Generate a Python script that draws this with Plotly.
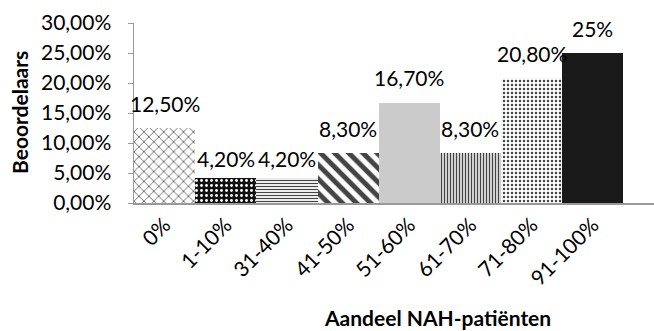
import plotly.graph_objects as go

# ---- data ----
categories = ["0%", "1-10%", "31-40%", "41-50%", "51-60%", "61-70%", "71-80%", "91-100%"]
values = [0.125, 0.042, 0.042, 0.083, 0.167, 0.083, 0.208, 0.25]
value_labels = ["12,50%", "4,20%", "4,20%", "8,30%", "16,70%", "8,30%", "20,80%", "25%"]
y_tick_values = [0, 0.05, 0.10, 0.15, 0.20, 0.25, 0.30]
y_tick_labels = ["0,00%", "5,00%", "10,00%", "15,00%", "20,00%", "25,00%", "30,00%"]
x_title = "Aandeel NAH-patiënten"
y_title = "Beoordelaars"

# ---- styles ----
FONT = "Lato"
W, H = 654, 331
L, R, T, B = 134, 0, 23, 128
pattern_shapes = ["x", ".", "-", "\\", "", "|", ".", ""]
pattern_fg = ["black", "white", "black", "black", "#cbcbcb", "black", "black", "#1a1a1a"]
pattern_bg = ["white", "#111111", "white", "white", "#cbcbcb", "white", "white", "#1a1a1a"]
pattern_size = [7, 5, 3, 10, 4, 3, 4, 8]
pattern_solidity = [0.2, 0.25, 0.4, 0.5, 0.25, 0.5, 0.3, 0.5]
label_shift = [25, 19, 19, 25, 25, 25, 25, 25]

fig = go.Figure()
fig.add_trace(go.Bar(
    x=categories, y=values, width=1.0,
    marker=dict(
        color=pattern_bg,
        line=dict(width=0),
        pattern=dict(shape=pattern_shapes, fgcolor=pattern_fg, bgcolor=pattern_bg, fgopacity=1,
                     size=pattern_size, solidity=pattern_solidity, fillmode="overlay"),
    ),
    hoverinfo="skip",
))

annotations = []
for c, v, t, s in zip(categories, values, value_labels, label_shift):
    annotations.append(dict(x=c, y=v, text=t, showarrow=False, yshift=s,
                            yanchor="middle", xanchor="center",
                            font=dict(family=FONT, size=21, color="black")))

pw, ph = W - L - R, H - T - B
annotations.append(dict(xref="paper", yref="paper", x=(437 - L) / pw, y=(203 - 332) / ph,
                        text=f"<b>{x_title}</b>", showarrow=False, xanchor="center", yanchor="bottom",
                        font=dict(family=FONT, size=21, color="black")))
annotations.append(dict(xref="paper", yref="paper", x=(19 - L) / pw, y=0.5,
                        text=f"<b>{y_title}</b>", showarrow=False, textangle=-90,
                        xanchor="center", yanchor="middle",
                        font=dict(family=FONT, size=21, color="black")))

fig.update_layout(
    width=W, height=H,
    margin=dict(l=L, r=R, t=T, b=B, pad=0),
    paper_bgcolor="white", plot_bgcolor="white",
    bargap=0, showlegend=False,
    font=dict(family=FONT, size=21, color="black"),
    annotations=annotations,
)
fig.update_xaxes(type="category", range=[-0.5, 8.0], showline=True, linecolor="#999999", linewidth=1.5,
                 ticks="", tickangle=-45, showgrid=False, zeroline=False,
                 tickfont=dict(family=FONT, size=21, color="black"), fixedrange=True)
fig.update_yaxes(range=[0, 0.30], tickvals=y_tick_values, ticktext=y_tick_labels,
                 showline=True, linecolor="#999999", linewidth=1.5, ticks="outside", ticklen=5,
                 tickcolor="#999999", showgrid=False, zeroline=False, ticklabelstandoff=12,
                 tickfont=dict(family=FONT, size=21, color="black"), fixedrange=True)

fig.write_html("out.html", config={"displayModeBar": False, "staticPlot": True},
               post_script="document.body.style.margin='0';")
